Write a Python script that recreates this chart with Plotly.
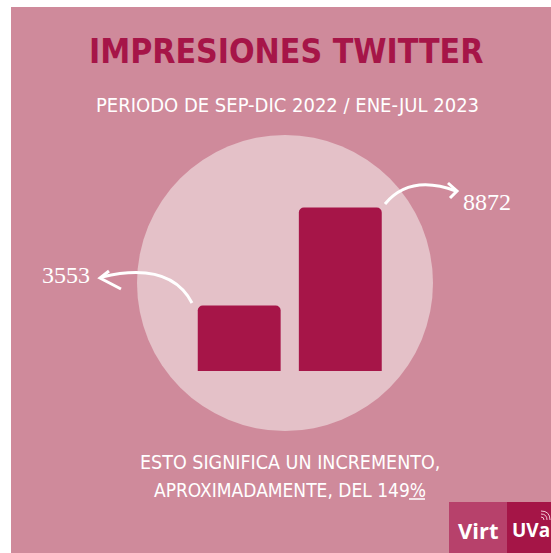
import plotly.graph_objects as go

W, H = 551, 553

# ---- data ----
categories = ["Sep-Dic 2022", "Ene-Jul 2023"]
impressions = [3553, 8872]
value_labels = ["3553", "8872"]
title_text = "IMPRESIONES TWITTER"
subtitle_text = "PERIODO DE SEP-DIC 2022 / ENE-JUL 2023"
footer_lines = ["ESTO SIGNIFICA UN INCREMENTO,", "APROXIMADAMENTE, DEL 149%"]

# ---- styles ----
BG = "#CF8A9B"
CIRCLE = "#E4C1C8"
BAR = "#A61548"
VIRT = "#B7416B"
UVA = "#A51547"
NARROW = "Liberation Sans Narrow, DejaVu Sans Condensed, Arial Narrow, sans-serif"

def px(x):
    return x / W

def py(y):
    return 1 - y / H

# axis geometry (pixel targets)
cat0_px, cat_step = 239.2, 101.1
base_px = 371.0
px_per_unit = 163.4 / 8872
x_range = [-cat0_px / cat_step, (W - cat0_px) / cat_step]
y_range = [-(H - base_px) / px_per_unit, base_px / px_per_unit]

fig = go.Figure()
fig.add_trace(go.Bar(
    x=categories, y=impressions, width=0.82,
    marker=dict(color=BAR, cornerradius=5, line=dict(width=0)),
    hoverinfo="skip",
))

shapes = []
# background panel
shapes.append(dict(type="rect", xref="paper", yref="paper", layer="below",
                   x0=px(11), x1=1, y0=0, y1=py(7), fillcolor=BG, line=dict(width=0)))
# circle
cx, cy, r = 285, 283, 148
shapes.append(dict(type="circle", xref="paper", yref="paper", layer="below",
                   x0=px(cx - r), x1=px(cx + r), y0=py(cy + r), y1=py(cy - r),
                   fillcolor=CIRCLE, line=dict(width=0)))
# logo boxes
shapes.append(dict(type="rect", xref="paper", yref="paper", layer="below",
                   x0=px(449), x1=px(507), y0=0, y1=py(502), fillcolor=VIRT, line=dict(width=0)))
shapes.append(dict(type="rect", xref="paper", yref="paper", layer="below",
                   x0=px(507), x1=1, y0=0, y1=py(502), fillcolor=UVA, line=dict(width=0)))

def path_q(p0, c, p2):
    return "M %f,%f Q %f,%f %f,%f" % (px(p0[0]), py(p0[1]), px(c[0]), py(c[1]), px(p2[0]), py(p2[1]))

def path_poly(pts):
    s = "M %f,%f" % (px(pts[0][0]), py(pts[0][1]))
    for p in pts[1:]:
        s += " L %f,%f" % (px(p[0]), py(p[1]))
    return s

arrow_line = dict(color="white", width=3)
# left arrow
shapes.append(dict(type="path", xref="paper", yref="paper",
                   path=path_q((192, 303), (170, 261), (102, 277)), line=arrow_line))
shapes.append(dict(type="path", xref="paper", yref="paper",
                   path=path_poly([(109, 271), (100, 278), (121, 289)]), line=arrow_line))
# right arrow
shapes.append(dict(type="path", xref="paper", yref="paper",
                   path=path_q((385, 204), (410, 174), (456, 191)), line=arrow_line))
shapes.append(dict(type="path", xref="paper", yref="paper",
                   path=path_poly([(448, 183), (457, 191), (450, 198)]), line=arrow_line))
# underline of %
shapes.append(dict(type="line", xref="paper", yref="paper",
                   x0=px(409), x1=px(425), y0=py(499), y1=py(499),
                   line=dict(color="white", width=1.5)))
# wifi mark
for rr in (3, 6, 9):
    ox, oy = 541, 520
    shapes.append(dict(type="path", xref="paper", yref="paper",
                       path=path_q((ox, oy - rr), (ox + rr, oy - rr), (ox + rr, oy)),
                       line=dict(color="#F3C9D6", width=1)))

annotations = []
annotations.append(dict(text="<b>" + title_text + "</b>", xref="paper", yref="paper",
                        x=px(286), y=py(51),
                        showarrow=False, xanchor="center", yanchor="middle",
                        font=dict(family=NARROW, size=33.5, color=BAR)))
annotations.append(dict(text=subtitle_text, xref="paper", yref="paper", x=px(287), y=py(105),
                        showarrow=False, xanchor="center", yanchor="middle",
                        font=dict(family=NARROW, size=20, color="white")))
annotations.append(dict(text=footer_lines[0], xref="paper", yref="paper", x=px(290), y=py(462),
                        showarrow=False, xanchor="center", yanchor="middle",
                        font=dict(family=NARROW, size=19.5, color="white")))
annotations.append(dict(text=footer_lines[1], xref="paper", yref="paper", x=px(290), y=py(490),
                        showarrow=False, xanchor="center", yanchor="middle",
                        font=dict(family=NARROW, size=19, color="white")))
# value labels anchored to bar tops
label_shifts = [(-173.7, 30.5), (146.2, 5.8)]
for cat, val, lab, (dx, dy) in zip(categories, impressions, value_labels, label_shifts):
    annotations.append(dict(text=lab, x=cat, y=val, xref="x", yref="y",
                            xshift=dx, yshift=dy, showarrow=False,
                            xanchor="center", yanchor="middle",
                            font=dict(family="Liberation Serif, serif", size=24, color="white")))
# logo text
annotations.append(dict(text="<b>Virt</b>", xref="paper", yref="paper", x=px(478.5), y=py(530),
                        showarrow=False, xanchor="center", yanchor="middle",
                        font=dict(family="Open Sans", size=22, color="white")))
annotations.append(dict(text="<b>UVa</b>", xref="paper", yref="paper", x=px(510), y=py(530),
                        showarrow=False, xanchor="left", yanchor="middle",
                        font=dict(family="Open Sans", size=19, color="white")))

fig.update_layout(
    width=W, height=H, margin=dict(l=0, r=0, t=0, b=0),
    paper_bgcolor="white", plot_bgcolor="rgba(0,0,0,0)",
    showlegend=False, bargap=0.18,
    xaxis=dict(type="category", range=x_range, visible=False, fixedrange=True),
    yaxis=dict(range=y_range, visible=False, fixedrange=True),
    shapes=shapes, annotations=annotations,
)

fig.write_html("out.html", config={"displayModeBar": False},
               post_script="document.body.style.margin='0';document.body.style.overflow='hidden';")
